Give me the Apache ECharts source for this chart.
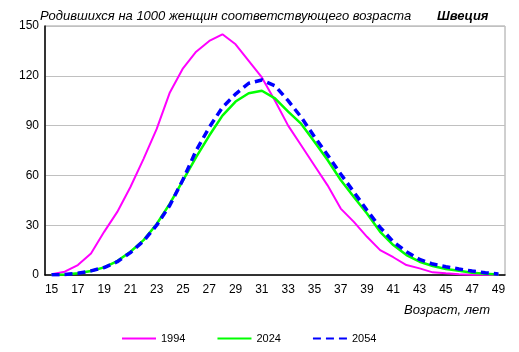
<!DOCTYPE html>
<html>
<head>
<meta charset="utf-8">
<script src="https://cdn.jsdelivr.net/npm/echarts@6/dist/echarts.min.js"></script>
<style>
  html, body { margin: 0; padding: 0; background: #fff; }
  #main { width: 519px; height: 352px; }
</style>
</head>
<body>
<div id="main"></div>
<script>
// возраст, лет
var ages = []
for (var a = 15; a <= 49; a++) ages.push(String(a))

var yTicks = [0, 30, 60, 90, 120, 150]

var s1994 = [0.5, 2, 6, 13, 26, 38, 53, 70, 88, 110, 124.5, 134.5, 141, 145, 139, 129, 119, 105, 90, 78, 66, 54, 40, 32, 23, 15, 10.7, 6, 4, 1.6, 1, 0.5, 0.2, 0.1, 0]
var s2024 = [0.1, 0.3, 1, 2.4, 4.6, 8.4, 14, 21, 30.7, 43, 57, 71, 84, 96, 104.5, 109.5, 111, 106.4, 98.4, 91, 80.3, 69.3, 57.2, 47, 37, 26, 18, 12, 8, 5.4, 3.6, 2.6, 1.4, 0.7, 0.3]
var s2054 = [0.1, 0.3, 1, 2.5, 4.5, 8, 13.5, 20.5, 30, 42, 57.5, 75, 89, 101, 109, 115.5, 117.5, 114, 105, 95, 83.3, 72.3, 60.8, 50, 39, 28.7, 20, 14, 9.4, 6.6, 5, 3.6, 2.4, 1.4, 0.6]

var chart = echarts.init(document.getElementById('main'))
var font = 'Arial, "Liberation Sans", sans-serif'
var option = {
  animation: false,
  textStyle: { fontFamily: font },
  title: [
    {
      text: 'Родившихся на 1000 женщин соответствующего возраста',
      left: 35, top: 5,
      textStyle: { fontSize: 13, fontStyle: 'italic', fontWeight: 'normal', color: '#000', fontFamily: font }
    },
    {
      text: 'Швеция',
      left: 432, top: 5,
      textStyle: { fontSize: 13, fontStyle: 'italic', fontWeight: 'bold', color: '#000', fontFamily: font }
    }
  ],
  legend: {
    bottom: 3,
    left: 116,
    itemWidth: 34,
    itemHeight: 8,
    itemGap: 31,
    itemStyle: { opacity: 0 },
    textStyle: { fontSize: 11, color: '#000', fontFamily: font },
    data: ['1994', '2024', '2054']
  },
  grid: {
    left: 45, right: 14, top: 26, bottom: 77,
    show: true, borderColor: '#a0a0a0', borderWidth: 1
  },
  xAxis: {
    type: 'category',
    data: ages,
    boundaryGap: true,
    name: 'Возраст, лет',
    nameLocation: 'end',
    nameGap: 0,
    nameTextStyle: { fontStyle: 'italic', fontSize: 13, color: '#000', align: 'right', verticalAlign: 'top', padding: [29, 15, 0, 0] },
    axisLine: { lineStyle: { color: '#000', width: 1.5 } },
    axisTick: { show: false },
    axisLabel: { interval: 1, color: '#000', fontSize: 12, margin: 9 },
    splitLine: { show: false }
  },
  yAxis: {
    type: 'value',
    min: 0, max: 150, interval: 30,
    axisLine: { show: true, lineStyle: { color: '#000', width: 1.5 } },
    axisTick: { show: false },
    axisLabel: {
      color: '#000', fontSize: 12, margin: 6,
      formatter: function (v) { return yTicks.indexOf(v) >= 0 ? String(v) : '' }
    },
    splitLine: { lineStyle: { color: '#c0c0c0', width: 1 } }
  },
  series: [
    {
      name: '1994', type: 'line', data: s1994, symbol: 'none',
      lineStyle: { color: '#ff00ff', width: 2 }, itemStyle: { color: '#ff00ff' }
    },
    {
      name: '2024', type: 'line', data: s2024, symbol: 'none',
      lineStyle: { color: '#00ff00', width: 2.5 }, itemStyle: { color: '#00ff00' }
    },
    {
      name: '2054', type: 'line', data: s2054, symbol: 'none',
      lineStyle: { color: '#0000ff', width: 3.5, type: [8, 5] }, itemStyle: { color: '#0000ff' }
    }
  ]
}
chart.setOption(option)
</script>
</body>
</html>
